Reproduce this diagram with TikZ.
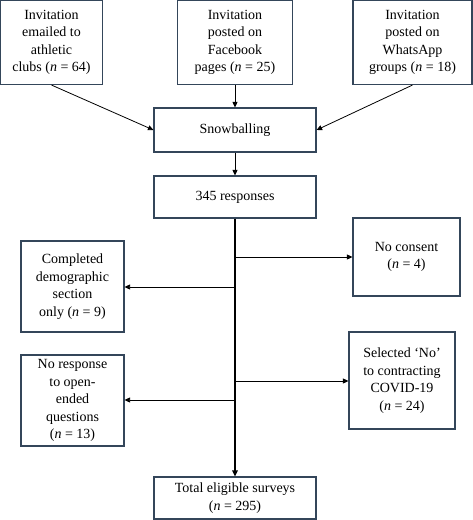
\documentclass[tikz,border=0pt]{standalone}
\usepackage{fontspec}
\setmainfont{Liberation Serif}
\usetikzlibrary{arrows.meta}
\definecolor{boxline}{HTML}{34465A}
\tikzset{
  box/.style={draw=boxline, line width=1.1pt, align=center, inner sep=0pt,
    font=\fontsize{14}{17.5}\selectfont},
  arr/.style={line width=0.8pt, -{Triangle[length=5.5pt,width=5pt]}},
  trunk/.style={line width=1.8pt, -{Triangle[length=6pt,width=5.5pt]}},
}
\newcommand{\nn}{\textit{n}}
\begin{document}
\begin{tikzpicture}[x=1pt,y=-1pt]
\useasboundingbox (0,0) rectangle (473,520);
\node[box, minimum width=102pt, minimum height=84pt] (b1) at (51.5,42.5)
  {Invitation\\emailed to\\athletic\\clubs (\nn{} = 64)};
\node[box, minimum width=115pt, minimum height=84pt] (b2) at (235,42.5)
  {Invitation\\posted on\\Facebook\\pages (\nn{} = 25)};
\node[box, minimum width=119pt, minimum height=84pt] (b3) at (412.5,42.5)
  {Invitation\\posted on\\WhatsApp\\groups (\nn{} = 18)};
\node[box, minimum width=162pt, minimum height=44pt] (sn) at (235,130) {Snowballing};
\node[box, minimum width=162pt, minimum height=42pt] (r) at (235,197) {345 responses};
\node[box, minimum width=107pt, minimum height=78pt] (nc) at (406.5,257)
  {No consent\\(\nn{} = 4)};
\node[box, minimum width=103pt, minimum height=91pt] (cd) at (72.5,286.5)
  {Completed\\demographic\\section\\only (\nn{} = 9)};
\node[box, minimum width=103pt, minimum height=91pt] (nr) at (72.5,400.5)
  {No response\\to open-\\ended\\questions\\(\nn{} = 13)};
\node[box, minimum width=106pt, minimum height=97pt] (sel) at (402,380.5)
  {Selected `No'\\to contracting\\COVID-19\\(\nn{} = 24)};
\node[box, minimum width=162pt, minimum height=42pt] (tot) at (235,498)
  {Total eligible surveys\\(\nn{} = 295)};

\draw[arr] (b1.south) -- (sn.west);
\draw[arr] (b2.south) -- (sn.north);
\draw[arr] (b3.south) -- (sn.east);
\draw[arr] (sn.south) -- (r.north);
\draw[trunk] (r.south) -- (tot.north);
\coordinate (k1) at (235,257);
\coordinate (k2) at (235,287);
\coordinate (k3) at (235,381);
\coordinate (k4) at (235,400);
\draw[arr] (k1) -- (nc.west |- k1);
\draw[arr] (k2) -- (cd.east |- k2);
\draw[arr] (k3) -- (sel.west |- k3);
\draw[arr] (k4) -- (nr.east |- k4);
\end{tikzpicture}
\end{document}
